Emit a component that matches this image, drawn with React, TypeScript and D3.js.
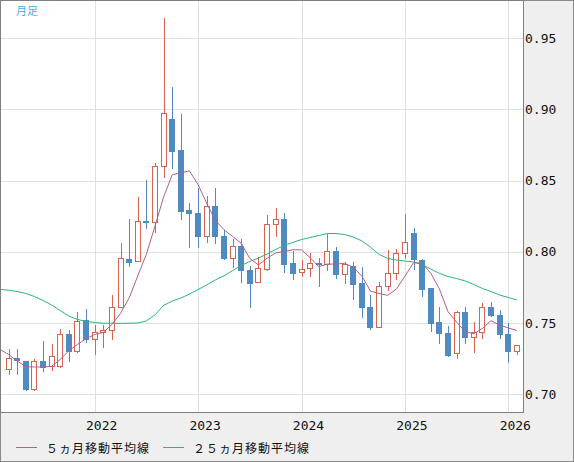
import React from 'react';
import * as d3 from 'd3';

const W = 574;
const H = 462;
const plot = { left: 0, top: 0, right: 523, bottom: 412 };

// Monthly candles, Mar 2021 .. Feb 2026 (first candle = month index 2, Jan 2021 = 0)
const candleStartIdx = 2;
const opens = [
  0.7176, 0.7255, 0.7234, 0.7039, 0.7234, 0.7199, 0.7201, 0.7421, 0.7306, 0.752,
  0.7388, 0.744, 0.7449, 0.7611, 0.795, 0.7934, 0.8219, 0.8208, 0.8601, 0.8933,
  0.8716, 0.8294, 0.8273, 0.8114, 0.832, 0.8112, 0.7955, 0.8039, 0.7873, 0.7787,
  0.7882, 0.8194, 0.8231, 0.792, 0.7857, 0.7885, 0.7922, 0.7917, 0.8004, 0.7847,
  0.7901, 0.7782, 0.7613, 0.7475, 0.7758, 0.785, 0.799, 0.8133, 0.7943, 0.7744,
  0.7508, 0.743, 0.7288, 0.7578, 0.74, 0.7435, 0.7613, 0.7557, 0.7423, 0.7302,
];
const highs = [
  0.7316, 0.7316, 0.7234, 0.7246, 0.7374, 0.7353, 0.7459, 0.7452, 0.758, 0.7599,
  0.7487, 0.7485, 0.7697, 0.8065, 0.8231, 0.8386, 0.8505, 0.8624, 0.9645, 0.9156,
  0.8968, 0.8346, 0.8449, 0.8395, 0.845, 0.8154, 0.8093, 0.8093, 0.7903, 0.7966,
  0.8259, 0.8306, 0.8271, 0.8006, 0.7943, 0.7994, 0.7955, 0.8128, 0.8032, 0.7931,
  0.7931, 0.7892, 0.7697, 0.7789, 0.8011, 0.802, 0.8266, 0.8168, 0.795, 0.775,
  0.7615, 0.748, 0.7583, 0.7615, 0.7506, 0.7639, 0.765, 0.7592, 0.7499, 0.7344,
];
const lows = [
  0.7138, 0.7138, 0.7025, 0.7023, 0.7154, 0.7164, 0.7187, 0.7229, 0.7288, 0.7362,
  0.7276, 0.7327, 0.7381, 0.7611, 0.7896, 0.7934, 0.8161, 0.8135, 0.8517, 0.8582,
  0.8224, 0.8029, 0.8029, 0.8065, 0.8053, 0.7943, 0.7889, 0.7784, 0.7608, 0.7787,
  0.7868, 0.8107, 0.7854, 0.7803, 0.7822, 0.7822, 0.7756, 0.7868, 0.781, 0.7777,
  0.7664, 0.7538, 0.7449, 0.7473, 0.7728, 0.7805, 0.795, 0.7871, 0.7685, 0.7438,
  0.7355, 0.7264, 0.725, 0.7355, 0.7288, 0.739, 0.7541, 0.739, 0.7218, 0.7276,
];
const closes = [
  0.7253, 0.7243, 0.7039, 0.7232, 0.7194, 0.7267, 0.7421, 0.7306, 0.7517, 0.739,
  0.744, 0.7449, 0.7611, 0.7955, 0.7931, 0.8215, 0.8208, 0.8601, 0.8973, 0.8711,
  0.8289, 0.8271, 0.8114, 0.832, 0.8114, 0.7959, 0.8039, 0.7875, 0.7784, 0.7885,
  0.8194, 0.8229, 0.7917, 0.785, 0.7882, 0.792, 0.7917, 0.8004, 0.7847, 0.7913,
  0.7777, 0.7615, 0.7475, 0.7758, 0.785, 0.799, 0.807, 0.795, 0.7742, 0.7503,
  0.7433, 0.7278, 0.7578, 0.7404, 0.7435, 0.7613, 0.7555, 0.7421, 0.7306, 0.7344,
];

// Moving averages, Feb 2021 .. Feb 2026 (month index 1)
const maStartIdx = 1;
const ma5 = [
  0.7316, 0.728, 0.7234, 0.7194, 0.7192, 0.7192, 0.7196, 0.7245, 0.7305, 0.735, 0.739,
  0.742, 0.7435, 0.749, 0.7569, 0.7677, 0.7832, 0.7984, 0.8182, 0.8386, 0.8542, 0.8556, 0.8569,
  0.8472, 0.8341, 0.8222, 0.8156, 0.8109, 0.8061, 0.7954, 0.7908, 0.7955, 0.7993, 0.8002, 0.8015,
  0.8014, 0.796, 0.7897, 0.7915, 0.7914, 0.792, 0.7892, 0.7831, 0.7725, 0.7708, 0.7695, 0.7738,
  0.7829, 0.7924, 0.792, 0.7851, 0.774, 0.7581, 0.7507, 0.7439, 0.7426, 0.7462, 0.7517, 0.7486,
  0.7466, 0.7448,
];
const ma25 = [
  0.7737, 0.7731, 0.7722, 0.7708, 0.7687, 0.7659, 0.7627, 0.7588, 0.755, 0.7525, 0.7513,
  0.7504, 0.7499, 0.7499, 0.7498, 0.7499, 0.7501, 0.7515, 0.7558, 0.7624, 0.7655, 0.7676, 0.7704,
  0.7736, 0.7768, 0.7803, 0.7832, 0.7869, 0.7904, 0.7933, 0.7957, 0.7985, 0.8017, 0.8046, 0.8067,
  0.8087, 0.8101, 0.8115, 0.8129, 0.8129, 0.8122, 0.8105, 0.8077, 0.8034, 0.7982, 0.7955, 0.7943,
  0.7936, 0.7929, 0.7911, 0.788, 0.7849, 0.7827, 0.7813, 0.7796, 0.7771, 0.7743, 0.7722, 0.7697,
  0.768, 0.7662,
];

const yTicks = [0.7, 0.75, 0.8, 0.85, 0.9, 0.95];
const yearTicks = [2022, 2023, 2024, 2025, 2026];
const legendLabels = ['５ヵ月移動平均線', '２５ヵ月移動平均線'];

const UP = '#d8654b';
const DOWN = '#4f8bc0';
const MA5_COLOR = '#b65d8c';
const MA25_COLOR = '#2eb37a';
const GRID = '#e1e1e1';

const x = d3.scaleLinear().domain([12, 60]).range([94.7, 508.3]);
const y = d3.scaleLinear().domain([0.7, 0.95]).range([394.3, 38.3]);

const px = (v: number) => Math.round(v) + 0.5;

export default function App() {
  const candles = opens.map((o, i) => ({
    idx: candleStartIdx + i,
    o,
    h: highs[i],
    l: lows[i],
    c: closes[i],
  }));

  const maLine = d3
    .line<number>()
    .x((_, j) => x(maStartIdx + j))
    .y(v => y(v));

  const legendX = [16, 163];

  return (
    <div style={{ position: 'absolute', left: 0, top: 0 }}>
      <svg width={W} height={H} style={{ display: 'block' }}>
        <defs>
          <clipPath id="plotClip">
            <rect x={plot.left} y={plot.top} width={plot.right - plot.left} height={plot.bottom - plot.top} />
          </clipPath>
        </defs>
        <rect x={0.5} y={0.5} width={W - 1} height={H - 1} fill="#efefef" stroke="#8a8a8a" />
        <rect
          x={plot.left + 0.5}
          y={plot.top + 0.5}
          width={plot.right - plot.left}
          height={plot.bottom - plot.top}
          fill="#fff"
        />

        {/* grid */}
        <g shapeRendering="crispEdges">
          {yTicks.map(t => (
            <line key={t} x1={plot.left} x2={plot.right} y1={px(y(t))} y2={px(y(t))} stroke={GRID} />
          ))}
          {yearTicks.map(yr => {
            const gx = px(x((yr - 2021) * 12));
            return <line key={yr} x1={gx} x2={gx} y1={plot.top} y2={plot.bottom} stroke={GRID} />;
          })}
        </g>

        <g clipPath="url(#plotClip)">
          {/* candles */}
          <g shapeRendering="crispEdges">
            {candles.map(d => {
              const cx = px(x(d.idx));
              const up = d.c >= d.o;
              const col = up ? UP : DOWN;
              const top = px(y(Math.max(d.o, d.c)));
              const bot = px(y(Math.min(d.o, d.c)));
              return (
                <g key={d.idx}>
                  <line x1={cx} x2={cx} y1={y(d.h)} y2={y(d.l)} stroke={col} />
                  <rect
                    x={cx - 3}
                    y={top}
                    width={5}
                    height={Math.max(bot - top, 1)}
                    fill={up ? '#fff' : col}
                    stroke={col}
                  />
                </g>
              );
            })}
          </g>
          {/* moving averages */}
          <path d={maLine(ma25) ?? ''} fill="none" stroke={MA25_COLOR} strokeWidth={1} />
          <path d={maLine(ma5) ?? ''} fill="none" stroke={MA5_COLOR} strokeWidth={1} />
        </g>

        {/* plot border */}
        <rect
          x={plot.left + 0.5}
          y={plot.top + 0.5}
          width={plot.right - plot.left}
          height={plot.bottom - plot.top}
          fill="none"
          stroke="#7f7f7f"
          shapeRendering="crispEdges"
        />

        <text x={16} y={15} fontSize={11} fill="#3ab4ee" fontFamily="'Noto Sans CJK JP', sans-serif">
          月足
        </text>

        {/* axis labels */}
        <g fontFamily="'DejaVu Sans Mono', monospace" fontSize={13} fill="#111">
          {yTicks.map(t => (
            <text key={t} x={525} y={y(t) + 4.5}>
              {d3.format('.2f')(t)}
            </text>
          ))}
          {yearTicks.map(yr => (
            <text key={yr} x={x((yr - 2021) * 12) + 7} y={430} textAnchor="middle">
              {yr}
            </text>
          ))}
        </g>

        {/* legend */}
        <g fontFamily="'Noto Sans CJK JP', sans-serif" fontSize={12} fill="#111">
          {legendLabels.map((lab, i) => (
            <g key={lab}>
              <line
                x1={legendX[i]}
                x2={legendX[i] + 21}
                y1={447.5}
                y2={447.5}
                stroke={i === 0 ? MA5_COLOR : MA25_COLOR}
              />
              <text x={legendX[i] + 30} y={453} letterSpacing={1}>
                {lab}
              </text>
            </g>
          ))}
        </g>
      </svg>
    </div>
  );
}
